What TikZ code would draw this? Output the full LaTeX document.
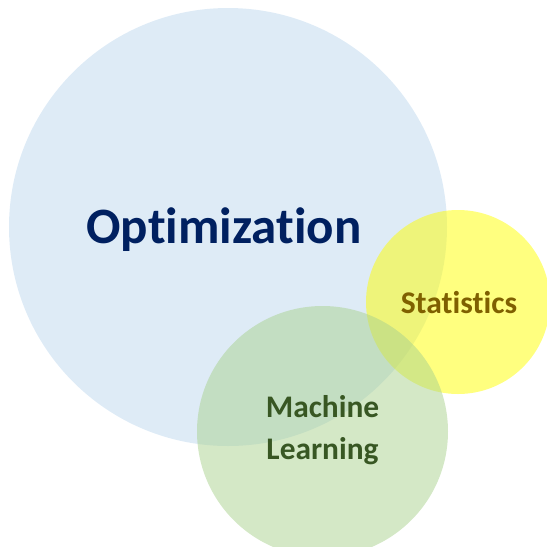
\documentclass[tikz,border=0pt]{standalone}
\usepackage{fontspec}
\setmainfont{Carlito}[RawFeature={-liga}]
\definecolor{optblue}{HTML}{BDD7EE}
\definecolor{statyellow}{HTML}{FFFF00}
\definecolor{mlgreen}{HTML}{A9D18E}
\definecolor{opttext}{HTML}{002060}
\definecolor{stattext}{HTML}{7F6000}
\definecolor{mltext}{HTML}{385723}
\begin{document}
\begin{tikzpicture}[x=1pt,y=-1pt,
  field/.style={fill opacity=0.5,draw=none},
  label/.style={font=\bfseries,inner sep=0pt,anchor=base}]
  \useasboundingbox (0,0) rectangle (547,547);
  \begin{scope}
    \clip (0,0) rectangle (547,547);
    % the three fields
    \fill[field,fill=optblue] (228,227) circle (219);
    \fill[field,fill=statyellow] (458,302) circle (92);
    \fill[field,fill=mlgreen] (322.5,431.5) circle (125.5);
  \end{scope}
  % field names
  \node[label,text=opttext,font=\bfseries\fontsize{51}{60}\selectfont] (opt) at (224,243.5) {Optimization};
  \node[label,text=stattext,font=\bfseries\fontsize{31.6}{38}\selectfont] (stat) at (459,313.3) {Statistics};
  \node[label,text=mltext,align=center,font=\bfseries\fontsize{31.4}{42.6}\selectfont] (ml) at (322.5,459.9) {Machine\\Learning};
\end{tikzpicture}
\end{document}
